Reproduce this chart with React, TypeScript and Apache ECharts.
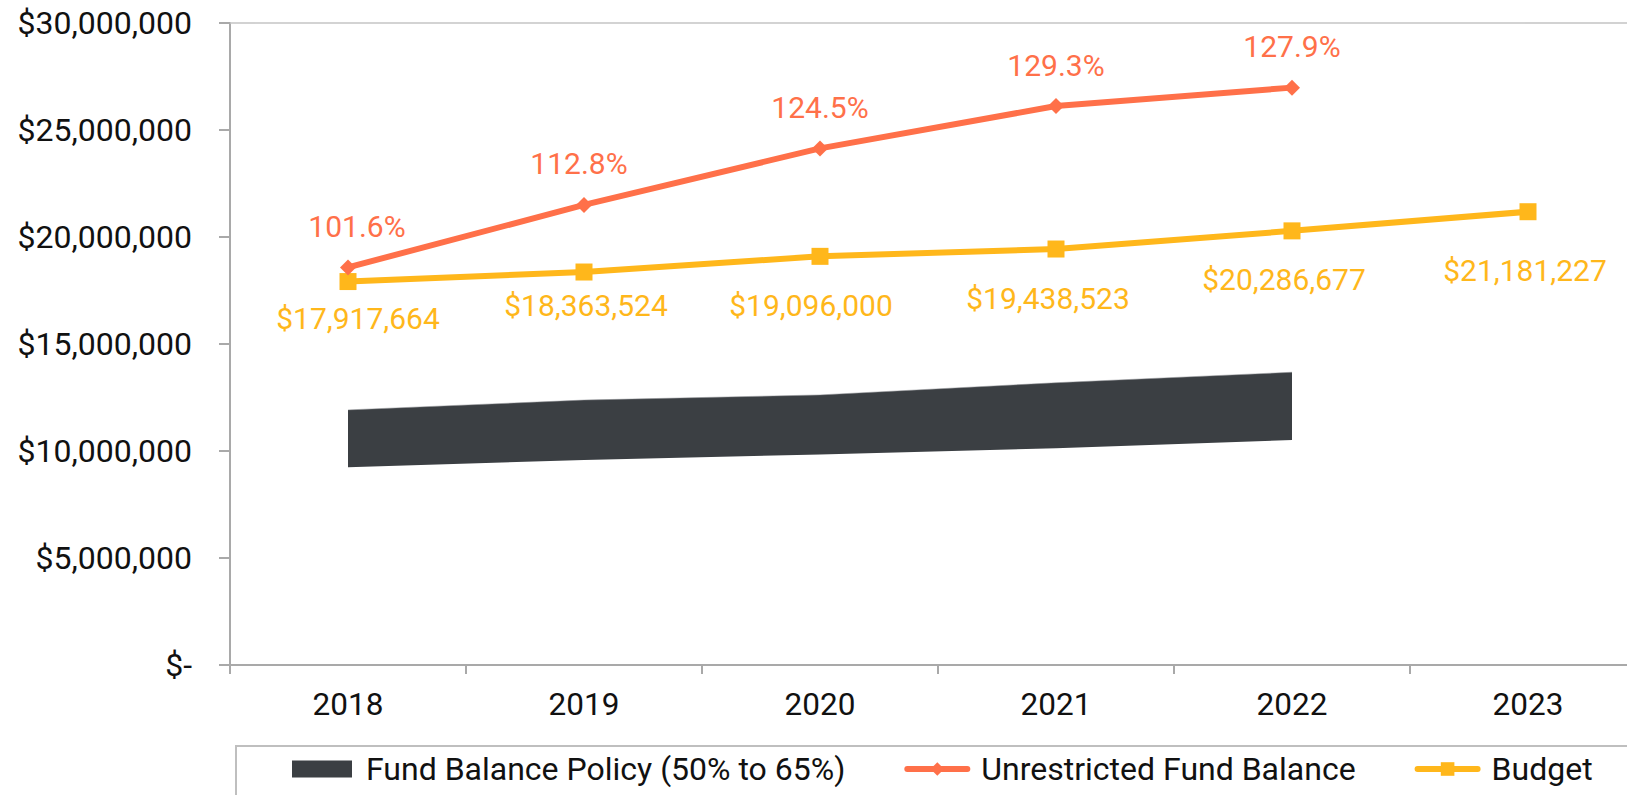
import React, { useEffect, useRef } from 'react';
import * as echarts from 'echarts';

const years = ['2018', '2019', '2020', '2021', '2022', '2023'];
const policyLow = [9240000, 9580000, 9840000, 10130000, 10510000];
const policyHigh = [11920000, 12380000, 12620000, 13190000, 13680000];
const unrestricted = [18580000, 21500000, 24140000, 26120000, 26980000];
const unrestrictedPct = [101.6, 112.8, 124.5, 129.3, 127.9];
const budget = [17917664, 18363524, 19096000, 19438523, 20286677, 21181227];

// label nudges (styling only)
const budgetLabelDx = [10, 2, -9, -8, -8, -3];
const budgetLabelDy = [-10, -13, 3, 3, 2, 12];
const pctLabelDx = [9, -5, 0, 0, 0];

const Y_MIN = 0;
const Y_MAX = 30000000;
const Y_STEP = 5000000;

const POLICY_NAME = 'Fund Balance Policy (50% to 65%)';
const UFB_NAME = 'Unrestricted Fund Balance';
const BUDGET_NAME = 'Budget';

const ORANGE = '#FF7049';
const YELLOW = '#FFB71B';
const DARK = '#3B3F43';
const AXIS = '#A9A9A9';
const FONT = 'Roboto';

export default function App() {
  const ref = useRef<HTMLDivElement>(null);

  useEffect(() => {
    if (!ref.current) return;
    const chart = echarts.init(ref.current, null, { renderer: 'svg' });
    const bandSpan = policyHigh.map((v, i) => v - policyLow[i]);

    chart.setOption({
      animation: false,
      backgroundColor: '#ffffff',
      textStyle: { fontFamily: FONT },
      grid: { left: 230, width: 1416, top: 23, height: 642, containLabel: false },
      legend: {
        left: 292,
        top: 753,
        padding: 0,
        itemWidth: 60,
        itemHeight: 17,
        itemGap: 59,
        textStyle: { fontFamily: FONT, fontSize: 32, color: '#111', padding: [0, 0, 0, 9] },
        lineStyle: { cap: 'round', width: 6 },
        data: [
          { name: POLICY_NAME, icon: 'rect' },
          { name: UFB_NAME },
          { name: BUDGET_NAME },
        ],
      },
      graphic: [
        {
          type: 'rect',
          shape: { x: 236, y: 746, width: 1430, height: 90 },
          style: { fill: 'none', stroke: '#BFBFBF', lineWidth: 2 },
          silent: true,
        },
      ],
      xAxis: [
        {
          type: 'category',
          data: years,
          boundaryGap: true,
          axisLine: { show: true, lineStyle: { color: AXIS, width: 2 } },
          axisTick: { show: true, length: 9, lineStyle: { color: AXIS, width: 2 } },
          axisLabel: { fontFamily: FONT, fontSize: 31.5, color: '#111', margin: 23 },
          splitLine: { show: false },
        },
        {
          type: 'category',
          data: years,
          position: 'top',
          axisLine: { show: true, lineStyle: { color: '#C4C4C4', width: 1.5 } },
          axisTick: { show: false },
          axisLabel: { show: false },
          splitLine: { show: false },
        },
      ],
      yAxis: {
        type: 'value',
        min: Y_MIN,
        max: Y_MAX,
        interval: Y_STEP,
        axisLine: { show: true, lineStyle: { color: AXIS, width: 2 } },
        axisTick: { show: true, length: 11, lineStyle: { color: AXIS, width: 2 } },
        splitLine: { show: false },
        axisLabel: {
          fontFamily: FONT,
          fontSize: 32,
          color: '#111',
          margin: 38,
          formatter: (v: number) => (v === 0 ? '$-' : '$' + v.toLocaleString('en-US')),
        },
      },
      series: [
        {
          name: 'policyBase',
          type: 'line',
          stack: 'policy',
          data: policyLow,
          symbol: 'none',
          lineStyle: { width: 0, opacity: 0 },
          silent: true,
          z: 1,
        },
        {
          name: POLICY_NAME,
          type: 'line',
          stack: 'policy',
          data: bandSpan,
          symbol: 'none',
          color: DARK,
          itemStyle: { color: DARK },
          lineStyle: { width: 0.5, color: '#8a8d90' },
          areaStyle: { color: DARK, opacity: 1 },
          silent: true,
          z: 1,
        },
        {
          name: UFB_NAME,
          type: 'line',
          data: unrestricted.map((v, i) => ({
            value: v,
            label: { offset: [pctLabelDx[i], 0] },
          })),
          symbol: 'diamond',
          symbolSize: 16,
          color: ORANGE,
          itemStyle: { color: ORANGE },
          lineStyle: { color: ORANGE, width: 6 },
          z: 3,
          label: {
            show: true,
            position: 'top',
            distance: 18,
            fontFamily: FONT,
            fontSize: 30,
            color: ORANGE,
            formatter: (p: any) => unrestrictedPct[p.dataIndex].toFixed(1) + '%',
          },
        },
        {
          name: BUDGET_NAME,
          type: 'line',
          data: budget.map((v, i) => ({
            value: v,
            label: { offset: [budgetLabelDx[i], budgetLabelDy[i]] },
          })),
          symbol: 'rect',
          symbolSize: 17,
          color: YELLOW,
          itemStyle: { color: YELLOW },
          lineStyle: { color: YELLOW, width: 6 },
          z: 2,
          label: {
            show: true,
            position: 'bottom',
            distance: 23,
            fontFamily: FONT,
            fontSize: 30,
            color: YELLOW,
            formatter: (p: any) => '$' + Number(p.value).toLocaleString('en-US'),
          },
        },
      ],
    });

    return () => chart.dispose();
  }, []);

  return (
    <div
      ref={ref}
      style={{ position: 'fixed', left: 0, top: 0, width: 1660, height: 795, background: '#fff' }}
    />
  );
}
